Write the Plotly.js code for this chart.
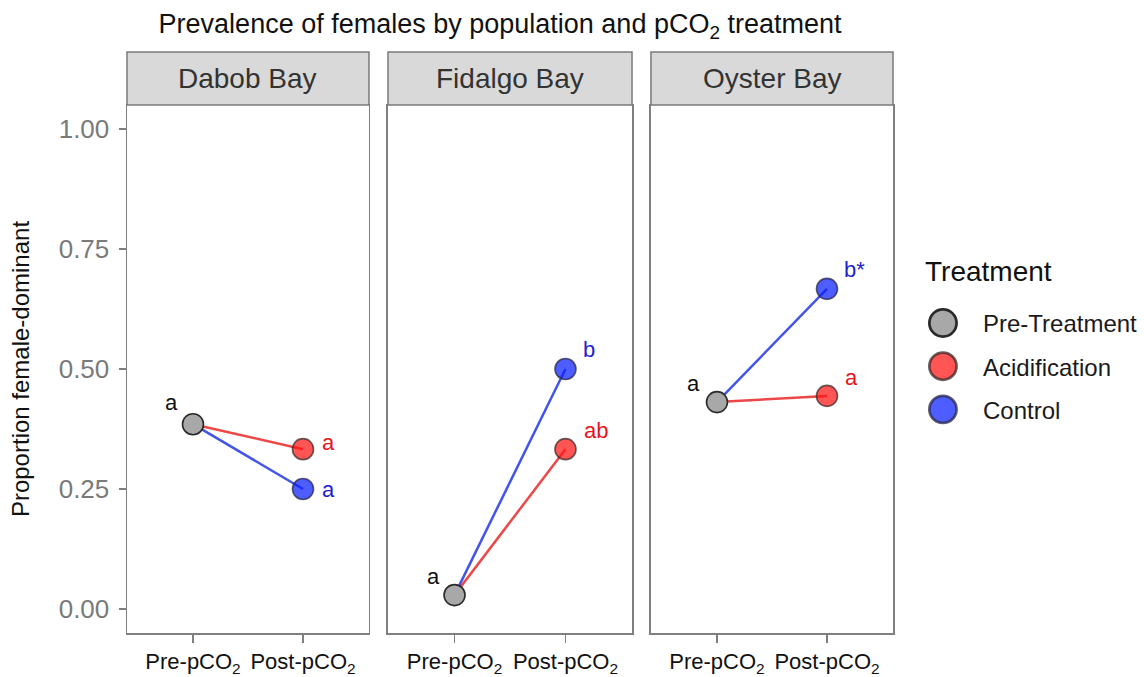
<!DOCTYPE html>
<html><head><meta charset="utf-8">
<script src="https://cdn.plot.ly/plotly-3.0.1.min.js"></script>
<style>body{margin:0;background:#fff}</style>
</head><body><div id="chart" style="width:1144px;height:677px"></div>
<script>
// ---- data ----
const populations = ["Dabob Bay", "Fidalgo Bay", "Oyster Bay"];
const timepoints = ["Pre-pCO2", "Post-pCO2"];
const timepointLabels = ["Pre-pCO<sub>2</sub>", "Post-pCO<sub>2</sub>"];
const preTreatment = [0.385, 0.029, 0.431];
const acidification = [0.333, 0.333, 0.444];
const control = [0.25, 0.5, 0.667];
const preLetters = ["a", "a", "a"];
const acidLetters = ["a", "ab", "a"];
const controlLetters = ["a", "b", "b*"];
const yTicks = [0, 0.25, 0.5, 0.75, 1];
const yTickLabels = ["0.00", "0.25", "0.50", "0.75", "1.00"];

// ---- styles ----
const FONT = "Liberation Sans, Arial, Helvetica, sans-serif";
const RED_LINE = "rgba(235,45,45,0.88)";
const BLUE_LINE = "rgba(40,60,230,0.88)";
const RED_FILL = "rgba(255,20,20,0.72)";
const BLUE_FILL = "rgba(10,30,255,0.72)";
const GRAY_FILL = "#a8a8a8";
const RED_TXT = "#e8141c";
const BLUE_TXT = "#2222cc";
const MSIZE = 21;
const domains = [[0, 0.3159], [0.3407, 0.6593], [0.684, 1]];
// label offsets (px) per facet
const preOff = [[-21, 22], [-21, 19], [-23, 19]];
const acidOff = [[26, 7], [31, 19], [25, 18]];
const ctrlOff = [[26, 0], [24, 20], [28, 19]];

const axName = i => i === 0 ? "" : String(i + 1);
const traces = [];
populations.forEach((p, i) => {
  const xa = "x" + axName(i), ya = "y" + axName(i);
  traces.push({x: timepoints, y: [preTreatment[i], acidification[i]], xaxis: xa, yaxis: ya,
    mode: "lines", line: {color: RED_LINE, width: 2.5}, showlegend: false, hoverinfo: "skip"});
  traces.push({x: timepoints, y: [preTreatment[i], control[i]], xaxis: xa, yaxis: ya,
    mode: "lines", line: {color: BLUE_LINE, width: 2.5}, showlegend: false, hoverinfo: "skip"});
});
populations.forEach((p, i) => {
  const xa = "x" + axName(i), ya = "y" + axName(i);
  traces.push({x: [timepoints[0]], y: [preTreatment[i]], xaxis: xa, yaxis: ya, mode: "markers",
    name: "Pre-Treatment", legendgroup: "pre", showlegend: i === 0,
    marker: {size: MSIZE, color: GRAY_FILL, line: {color: "#2a2a2a", width: 1.6}}});
  traces.push({x: [timepoints[1]], y: [acidification[i]], xaxis: xa, yaxis: ya, mode: "markers",
    name: "Acidification", legendgroup: "acid", showlegend: i === 0,
    marker: {size: MSIZE, color: RED_FILL, line: {color: "rgba(60,40,40,0.75)", width: 1.6}}});
  traces.push({x: [timepoints[1]], y: [control[i]], xaxis: xa, yaxis: ya, mode: "markers",
    name: "Control", legendgroup: "ctrl", showlegend: i === 0,
    marker: {size: MSIZE, color: BLUE_FILL, line: {color: "rgba(40,40,70,0.75)", width: 1.6}}});
});

const layout = {
  width: 1144, height: 677,
  margin: {l: 127, r: 251, t: 105, b: 44, autoexpand: false},
  paper_bgcolor: "#fff", plot_bgcolor: "#fff",
  font: {family: FONT, color: "#1a1a1a"},
  title: {text: "Prevalence of females by population and pCO<sub>2</sub> treatment",
    font: {size: 27, color: "#111"}, x: 0.487, xref: "paper", xanchor: "center",
    y: 1 - 24 / 677, yref: "container", yanchor: "middle"},
  showlegend: true,
  legend: {x: 1.013, xanchor: "left", y: 0.629, yanchor: "top", itemwidth: 70,
    font: {size: 24, color: "#1a1a1a"}, tracegroupgap: 9, traceorder: "grouped"},
  shapes: [],
  annotations: [{xref: "paper", yref: "paper", x: 1.039, y: 0.684, xanchor: "left", yanchor: "middle",
    text: "Treatment", showarrow: false, font: {size: 28, color: "#111"}}]
};

populations.forEach((p, i) => {
  const n = axName(i);
  layout["xaxis" + n] = {
    domain: domains[i], anchor: "y" + n, type: "category",
    categoryorder: "array", categoryarray: timepoints,
    tickvals: timepoints, ticktext: timepointLabels, range: [-0.6, 1.6],
    showline: true, mirror: true, linecolor: "#7f7f7f", linewidth: 1.5,
    ticks: "outside", ticklen: 8, tickwidth: 1.8, tickcolor: "#7f7f7f",
    tickfont: {size: 22, color: "#111"}, showgrid: false, zeroline: false, fixedrange: true
  };
  layout["yaxis" + n] = {
    domain: [0, 1], anchor: "x" + n, range: [-0.05, 1.05],
    showline: true, mirror: true, linecolor: "#7f7f7f", linewidth: 1.5,
    showgrid: false, zeroline: false, fixedrange: true,
    tickvals: yTicks, ticktext: yTickLabels,
    ticks: i === 0 ? "outside" : "", ticklen: 7, tickwidth: 1.8, tickcolor: "#7f7f7f",
    showticklabels: i === 0, tickfont: {size: 26, color: "#7a7a7a"}
  };
  if (i === 0) {
    layout.yaxis.title = {text: "Proportion female-dominant", font: {size: 24, color: "#111"}, standoff: 22};
    layout.yaxis.ticklabelstandoff = 4;
  }
  layout.shapes.push({type: "rect", xref: "x" + n + " domain", yref: "paper",
    x0: 0, x1: 1, y0: 1, y1: 1.1004, fillcolor: "#d9d9d9",
    line: {color: "#7a7a7a", width: 1.5}, layer: "above"});
  layout.annotations.push({xref: "x" + n + " domain", yref: "paper", x: 0.5, y: 1.0502,
    text: p, showarrow: false, font: {size: 28, color: "#333"}, xanchor: "center", yanchor: "middle"});
  const xa = "x" + n, ya = "y" + n;
  layout.annotations.push({xref: xa, yref: ya, x: timepoints[0], y: preTreatment[i], text: preLetters[i],
    showarrow: false, xshift: preOff[i][0], yshift: preOff[i][1], font: {size: 22, color: "#111"}});
  layout.annotations.push({xref: xa, yref: ya, x: timepoints[1], y: acidification[i], text: acidLetters[i],
    showarrow: false, xshift: acidOff[i][0], yshift: acidOff[i][1], font: {size: 22, color: RED_TXT}});
  layout.annotations.push({xref: xa, yref: ya, x: timepoints[1], y: control[i], text: controlLetters[i],
    showarrow: false, xshift: ctrlOff[i][0], yshift: ctrlOff[i][1], font: {size: 22, color: BLUE_TXT}});
});

Plotly.newPlot("chart", traces, layout, {displayModeBar: false, staticPlot: true}).then(gd => {
  // enlarge legend symbols (Plotly caps legend marker size at 16px)
  gd.querySelectorAll(".legend .legendpoints path.scatterpts").forEach(p => {
    const t = p.getAttribute("transform") || "";
    p.setAttribute("transform", t + " scale(1.7)");
  });
});
</script></body></html>
